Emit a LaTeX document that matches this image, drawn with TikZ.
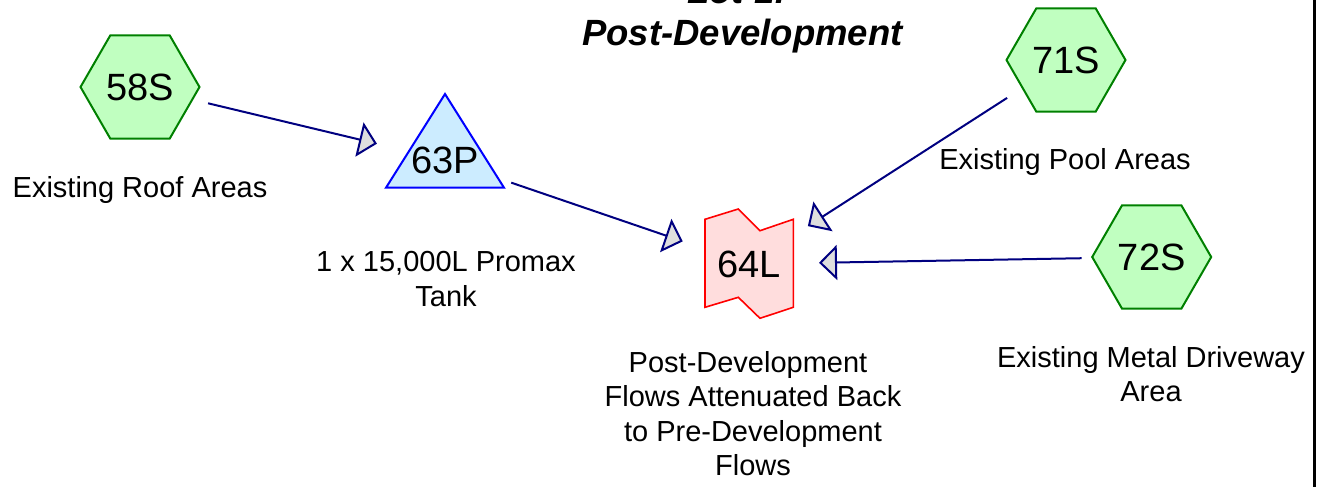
\documentclass[tikz,border=0pt]{standalone}
\usepackage{fontspec}
\setmainfont{Liberation Sans}
\usetikzlibrary{arrows.meta,shapes.geometric}

\definecolor{flowline}{RGB}{0,0,128}
\definecolor{tipfill}{RGB}{222,222,222}
\definecolor{subfill}{RGB}{192,255,192}
\definecolor{subedge}{RGB}{0,128,0}
\definecolor{pondfill}{RGB}{204,236,255}
\definecolor{pondedge}{RGB}{0,0,255}
\definecolor{linkfill}{RGB}{255,221,221}
\definecolor{linkedge}{RGB}{255,0,0}

\newcommand\hcidfont{\fontsize{38}{44}\selectfont}
\newcommand\hccapfont{\fontsize{29}{34.5}\selectfont}
\newcommand\hctitlefont{\fontsize{36.5}{44}\selectfont\bfseries\itshape}

\begin{document}
\begin{tikzpicture}[x=1pt,y=-1pt,
  subcat/.style={regular polygon, regular polygon sides=6, minimum size=119pt,
    inner sep=0pt, draw=subedge, fill=subfill, line width=2pt, font=\hcidfont},
  idtext/.style={inner sep=0pt, font=\hcidfont},
  pondshape/.style={draw=pondedge, fill=pondfill, line width=2pt, line join=miter},
  linkshape/.style={draw=linkedge, fill=linkfill, line width=1.6pt, line join=miter},
  caption/.style={inner sep=0pt, align=center, font=\hccapfont},
  heading/.style={inner sep=0pt, font=\hctitlefont},
  flow/.style={draw=flowline, line width=2pt, shorten <=70pt, shorten >=70pt,
    -{Triangle[length=18pt,width=35pt,fill=tipfill,line join=miter]}}
]
\useasboundingbox (0,0) rectangle (1323,487);
\clip (0,0) rectangle (1323,487);

% frame edge on the right
\draw[line width=3.3pt] (1314.5,-2) -- (1314.5,490);

% heading
\node[heading, anchor=base] (lot) at (737,4) {Lot 1:};
\node[heading, anchor=base] (title) at (742.5,46) {Post-Development};

% subcatchments
\node[subcat] (s58) at (140,87) {58S};
\node[subcat] (s71) at (1066,60) {71S};
\node[subcat] (s72) at (1151.7,257) {72S};

% pond
\draw[pondshape] (445,94) -- (504,187.7) -- (386,187.7) -- cycle;
\node[idtext] (p63) at (445,160) {63P};

% link
\draw[linkshape] (705,219.3) -- (738.3,209) -- (760,230.7) -- (793.3,219.3)
  -- (793.3,307.3) -- (760,318.3) -- (738.3,297.3) -- (705,307.3) -- cycle;
\node[idtext] (l64) at (749,264) {64L};

% captions
\node[caption, anchor=base] (c58) at (140,197.3) {Existing Roof Areas};
\node[caption, anchor=north] (c63) at (446,251.5) {1 x 15,000L Promax\\Tank};
\node[caption, anchor=north] (c64) at (753,351) {Post-Development\hspace*{10pt}\\Flows Attenuated Back\\to Pre-Development\hspace*{10pt}\\Flows};
\node[caption, anchor=base] (c71) at (1065,169.5) {Existing Pool Areas};
\node[caption, anchor=north] (c72) at (1151,346) {Existing Metal Driveway\\Area};

% flows
\draw[flow] (s58.center) -- (p63.center);
\draw[flow] (p63.center) -- (l64.center);
\draw[flow] (s71.center) -- (l64.center);
\draw[flow] (s72.center) -- (l64.center);
\end{tikzpicture}
\end{document}
